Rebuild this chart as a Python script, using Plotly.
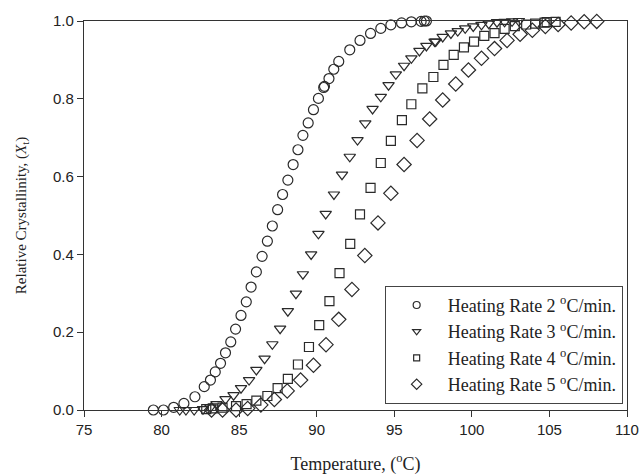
import plotly.graph_objects as go

# Heating rate 2 °C/min
x2 = [79.47, 80.12, 80.78, 81.44, 82.15, 82.75, 83.15, 83.46, 83.80, 84.12, 84.46, 84.77,
      85.12, 85.46, 85.77, 86.11, 86.48, 86.82, 87.14, 87.48, 87.80, 88.14, 88.48, 88.79,
      89.11, 89.45, 89.79, 90.11, 90.45, 90.50, 90.79, 91.10, 91.42, 92.13, 92.79, 93.47,
      94.13, 94.78, 95.47, 96.10, 96.73, 96.94, 97.07]
y2 = [0.0, 0.0, 0.007, 0.017, 0.034, 0.06, 0.077, 0.098, 0.12, 0.147, 0.175, 0.208,
      0.243, 0.278, 0.316, 0.355, 0.395, 0.434, 0.473, 0.515, 0.554, 0.591, 0.631, 0.669,
      0.706, 0.738, 0.772, 0.801, 0.829, 0.832, 0.852, 0.876, 0.896, 0.926, 0.95, 0.968,
      0.981, 0.99, 0.995, 0.998, 0.999, 1.0, 1.0]

# Heating rate 3 °C/min
x3 = [81.17, 81.57, 82.10, 82.67, 83.15, 83.54, 84.12, 84.64, 85.12, 85.64, 86.11, 86.64,
      87.14, 87.64, 88.14, 88.66, 89.11, 89.64, 90.11, 90.58, 91.11, 91.63, 92.13, 92.63,
      93.13, 93.60, 94.13, 94.63, 95.10, 95.63, 96.10, 96.62, 97.07, 97.60, 97.67, 98.12,
      98.65, 99.09, 99.57, 100.09, 100.62, 101.09, 101.62, 102.11, 102.59, 103.03]
y3 = [0.0, 0.0, 0.0, 0.002, 0.007, 0.015, 0.028, 0.038, 0.056, 0.077, 0.103, 0.132,
      0.169, 0.209, 0.254, 0.299, 0.349, 0.40, 0.453, 0.504, 0.554, 0.605, 0.651, 0.694,
      0.737, 0.774, 0.805, 0.835, 0.863, 0.885, 0.904, 0.923, 0.936, 0.947, 0.947, 0.959,
      0.968, 0.974, 0.981, 0.986, 0.99, 0.993, 0.997, 0.998, 0.999, 1.0]

# Heating rate 4 °C/min
x4 = [82.88, 83.30, 83.93, 84.80, 85.48, 86.11, 86.82, 87.48, 88.14, 88.79, 89.50, 90.16,
      90.82, 91.47, 92.16, 92.79, 93.47, 94.13, 94.78, 95.49, 96.10, 96.81, 97.52, 98.17,
      98.83, 99.49, 100.14, 100.80, 101.46, 102.11, 102.77, 103.50, 104.08, 104.69, 104.82,
      105.40]
y4 = [0.002, 0.004, 0.006, 0.010, 0.015, 0.024, 0.036, 0.056, 0.080, 0.117, 0.162, 0.218,
      0.280, 0.352, 0.427, 0.503, 0.571, 0.635, 0.692, 0.745, 0.786, 0.827, 0.856, 0.887,
      0.913, 0.932, 0.947, 0.962, 0.969, 0.98, 0.987, 0.991, 0.993, 0.996, 0.997, 0.998]

# Heating rate 5 °C/min
x5 = [83.22, 83.93, 84.80, 85.55, 86.40, 87.27, 88.10, 88.96, 89.79, 90.60, 91.42, 92.27,
      93.10, 93.95, 94.78, 95.63, 96.47, 97.28, 98.12, 98.96, 99.78, 100.62, 101.46, 102.27,
      103.11, 103.90, 104.74, 105.56, 106.40, 107.24, 108.05]
y5 = [0.0, 0.0, 0.0, 0.004, 0.013, 0.027, 0.049, 0.077, 0.115, 0.168, 0.233, 0.31,
      0.397, 0.481, 0.557, 0.631, 0.693, 0.748, 0.797, 0.838, 0.874, 0.904, 0.929, 0.95,
      0.966, 0.976, 0.986, 0.991, 0.995, 0.998, 0.999]

names = ["Heating Rate 2 <sup>o</sup>C/min.", "Heating Rate 3 <sup>o</sup>C/min.",
         "Heating Rate 4 <sup>o</sup>C/min.", "Heating Rate 5 <sup>o</sup>C/min."]
x_ticks = [75, 80, 85, 90, 95, 100, 105, 110]
y_ticks = [0, 0.2, 0.4, 0.6, 0.8, 1.0]

symbols = ["circle-open", "triangle-down-open", "square-open", "diamond-open"]
sizes = [10, 10, 9, 11]
legend_sizes = [7, 7, 6, 8]
series = [(x2, y2), (x3, y3), (x4, y4), (x5, y5)]

ink = "#2a2a2a"
serif = "Liberation Serif, Times New Roman, serif"
sans = "Liberation Sans, Arial, sans-serif"

fig = go.Figure()
for (xs, ys), nm, sym, sz in zip(series, names, symbols, sizes):
    fig.add_trace(go.Scatter(
        x=xs, y=ys, mode="markers", name=nm, cliponaxis=False, showlegend=False,
        marker=dict(symbol=sym, size=sz, color=ink, line=dict(color=ink, width=1.2)),
    ))
# legend entries (smaller symbols as in the reference legend)
for nm, sym, sz in zip(names, symbols, legend_sizes):
    fig.add_trace(go.Scatter(
        x=[None], y=[None], mode="markers", name=nm, showlegend=True,
        marker=dict(symbol=sym, size=sz, color=ink, line=dict(color=ink, width=1.2)),
    ))

axis_common = dict(
    showgrid=False, zeroline=False, showline=True, linecolor="#333", linewidth=1.3,
    mirror=True, ticks="outside", ticklen=6, tickwidth=1.2, tickcolor="#333",
    automargin=False,
    tickfont=dict(family=sans, size=15, color="#222"),
)
fig.update_xaxes(range=[75, 110], tickvals=x_ticks,
                 title=dict(text="Temperature, (<sup>o</sup>C)", standoff=22,
                            font=dict(family=serif, size=18, color="#222")),
                 **axis_common)
fig.update_yaxes(range=[0, 1.0], tickvals=y_ticks, tickformat=".1f",
                 title=dict(text="Relative Crystallinity, (<i>X</i><sub>t</sub>)", standoff=22,
                            font=dict(family=serif, size=15, color="#222")),
                 **axis_common)

fig.update_layout(
    width=640, height=475,
    margin=dict(l=84, r=13, t=21, b=65, autoexpand=False),
    plot_bgcolor="white", paper_bgcolor="white",
    legend=dict(x=0.992, y=0.016, xanchor="right", yanchor="bottom",
                bordercolor="#444", borderwidth=1, bgcolor="white",
                font=dict(family=serif, size=18, color="#222"),
                itemwidth=52, tracegroupgap=0),
)

fig.write_html("out.html")
